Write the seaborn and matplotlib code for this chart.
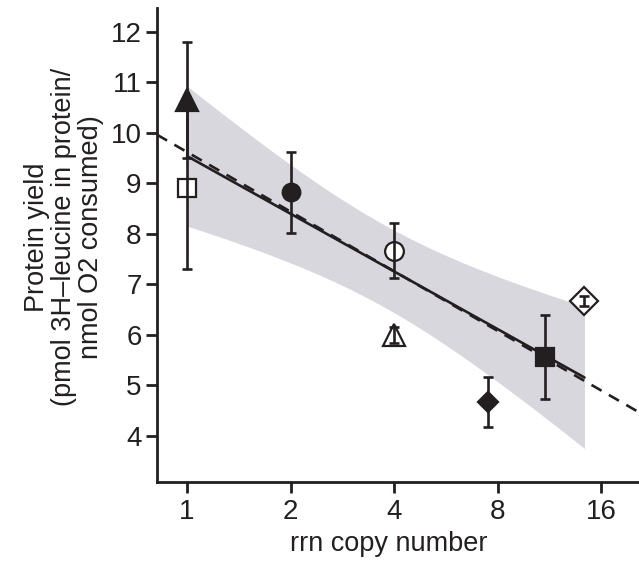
import numpy as np
import matplotlib
matplotlib.use("Agg")
import matplotlib.pyplot as plt
from matplotlib.ticker import NullLocator
import seaborn as sns

# rrn operon copy number and protein yield (mean with error) per isolate
copy_number = [1, 1, 2, 4, 4, 7.5, 11, 14.3]
protein_yield = [10.65, 8.9, 8.82, 7.67, 6.0, 4.67, 5.57, 6.68]
yield_error = [1.15, 1.6, 0.8, 0.55, 0.15, 0.5, 0.83, 0.1]

# second model, drawn dashed: yield = intercept + slope * log2(copy number)
alt_intercept = 9.62
alt_slope = -1.18

x_ticks = [1, 2, 4, 8, 16]
y_ticks = [4, 5, 6, 7, 8, 9, 10, 11, 12]

# marker style per isolate
marker_shapes = ["^", "s", "o", "o", "^", "D", "s", "D"]
marker_filled = [True, False, True, False, False, True, True, False]
marker_sizes = [16.5, 13, 12.7, 13.5, 16.5, 10, 13.3, 14.5]

INK = "#231f20"
BAND = "#d7d7dd"

sns.set_theme(style="ticks")
plt.rcParams["font.family"] = ["Liberation Sans", "DejaVu Sans"]

fig = plt.figure(figsize=(6.39, 5.63), dpi=100)
ax = fig.add_axes([157 / 639, 1 - 482 / 563, 482 / 639, 474 / 563])
ax.set_xscale("log", base=2)
ax.set_xlim(0.818, 20.6)
ax.set_ylim(3.09, 12.47)

# ordinary least squares on log2(copy number) with a 95% confidence band
lx = np.log2(copy_number)
yv = np.asarray(protein_yield)
slope, intercept = np.polyfit(lx, yv, 1)
n = len(lx)
resid = yv - (intercept + slope * lx)
s = np.sqrt(np.sum(resid ** 2) / (n - 2))
grid = np.linspace(lx.min(), lx.max(), 200)
fit = intercept + slope * grid
se = s * np.sqrt(1 / n + (grid - lx.mean()) ** 2 / np.sum((lx - lx.mean()) ** 2))
ax.fill_between(2 ** grid, fit - 1.96 * se, fit + 1.96 * se,
                color=BAND, lw=0, zorder=1)

# dashed model across the full axis range
xs = np.geomspace(*ax.get_xlim(), 50)
ax.plot(xs, alt_intercept + alt_slope * np.log2(xs), color=INK, lw=1.9,
        linestyle=(0, (4.4, 3.2)), zorder=2)

sns.lineplot(x=2 ** grid, y=fit, ax=ax, color=INK, lw=1.9, zorder=3)

# markers, then error bars on top of them
for xv, yy, ee, m, f, ms in zip(copy_number, protein_yield, yield_error,
                                marker_shapes, marker_filled, marker_sizes):
    ax.plot([xv], [yy], marker=m, ms=ms, mfc=INK if f else "white",
            mec=INK, mew=1.6, linestyle="none", zorder=4)
    ax.errorbar([xv], [yy], yerr=[ee], fmt="none", ecolor=INK,
                elinewidth=1.9, capsize=3.9, capthick=1.9, zorder=5)

ax.set_xticks(x_ticks)
ax.set_xticklabels([str(t) for t in x_ticks])
ax.xaxis.set_minor_locator(NullLocator())
ax.set_yticks(y_ticks)
ax.set_yticklabels([str(t) for t in y_ticks])

sns.despine(ax=ax)
for side in ("left", "bottom"):
    ax.spines[side].set_linewidth(2)
    ax.spines[side].set_color(INK)
    ax.spines[side].set_capstyle("projecting")
ax.tick_params(length=8, width=2, color=INK, labelcolor=INK,
               labelsize=20, direction="out")
ax.tick_params(axis="x", pad=4)
ax.tick_params(axis="y", pad=3)

ax.set_xlabel("rrn copy number", fontsize=19.5, color=INK)
ax.set_ylabel("Protein yield\n(pmol 3H\u2013leucine in protein/\nnmol O2 consumed)",
              fontsize=19.5, color=INK, linespacing=1.05)
ax.xaxis.set_label_coords((389 - 157) / 482, (482 - 531) / 474)
ax.yaxis.set_label_coords((104 - 157) / 482, (482 - 237) / 474)

fig.savefig("out.png", dpi=100)
